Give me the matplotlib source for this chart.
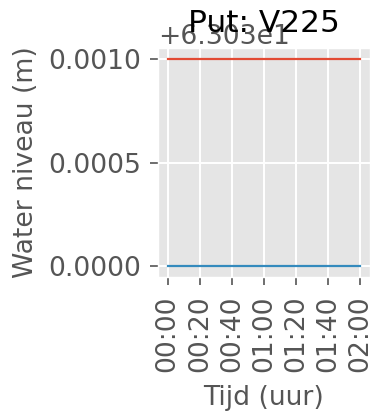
import numpy as np
import pandas as pd
import matplotlib
matplotlib.use("Agg")
import matplotlib.pyplot as plt
import matplotlib.dates as mdates

plt.style.use("ggplot")

# ============================================================
# data
# ============================================================
tijden = pd.date_range("2020-01-01 00:00", "2020-01-01 02:00", freq="20min")
niveau_boven = [63.031] * len(tijden)   # rode lijn
niveau_onder = [63.030] * len(tijden)   # blauwe lijn
titel = "Put: V225"

# ============================================================
# figuur
# ============================================================
fig = plt.figure(figsize=(3.71, 4.12), dpi=100)
ax = fig.add_axes([0.426, 0.328, 0.571, 0.555])

ax.plot(tijden, niveau_boven, color="#E24A33", linewidth=1.6)
ax.plot(tijden, niveau_onder, color="#348ABD", linewidth=1.6)

ax.xaxis.set_major_locator(mdates.MinuteLocator(byminute=[0, 20, 40]))
ax.xaxis.set_major_formatter(mdates.DateFormatter("%H:%M"))
ax.set_yticks([63.030, 63.0305, 63.031])
ax.ticklabel_format(axis="y", useOffset=63.03, style="plain")

ax.grid(True, color="white", linewidth=1.4)
ax.tick_params(axis="x", labelrotation=90, labelsize=19.2, length=5.6, width=1.2, pad=7.5)
ax.tick_params(axis="y", labelsize=19.2, length=5.6, width=1.2, pad=6.5)
ax.yaxis.get_offset_text().set_fontsize(19.2)

ax.set_xlabel("Tijd (uur)", fontsize=19.2, labelpad=9.5)
ax.set_ylabel("Water niveau (m)", fontsize=19.2, labelpad=7)
# titel bewust over de offset-tekst heen, zoals in het origineel
ax.set_title(titel, fontsize=22.5, y=1.07, pad=0, color="black")

fig.savefig("out.png", dpi=100)
